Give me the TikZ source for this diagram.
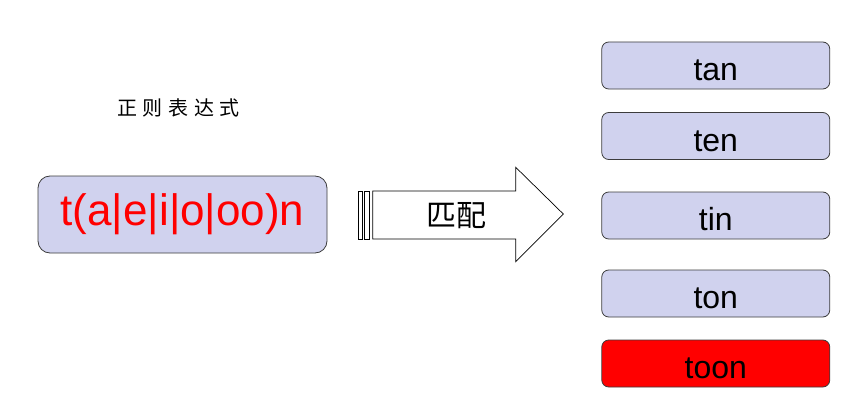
\documentclass[tikz,border=0pt]{standalone}
\usepackage{fontspec}
\setmainfont{Liberation Sans}
\newfontfamily\cjk{Noto Sans CJK SC}
\definecolor{lav}{RGB}{208,210,238}
\definecolor{edge}{RGB}{60,60,60}
\tikzset{
  wordbox/.style={draw=edge, line width=0.8pt, fill=lav, rounded corners=7pt, minimum width=228pt, minimum height=47pt, inner sep=0pt, text height=30.5pt, text depth=0pt, font=\fontsize{32}{38}\selectfont},
  regexbox/.style={draw=edge, line width=0.8pt, fill=lav, rounded corners=12pt, minimum width=289pt, minimum height=77pt, inner sep=0pt, text=red, font=\fontsize{44}{52}\selectfont},
  arrowline/.style={draw=black, line width=0.7pt, fill=white}
}
\begin{document}
\begin{tikzpicture}[x=1pt,y=-1pt]
\useasboundingbox (0,0) rectangle (862,420);
\node[inner sep=0pt, font=\cjk\fontsize{20}{22}\selectfont] (title) at (178.5,108) {正\hspace{5.7pt}则\hspace{5.7pt}表\hspace{5.7pt}达\hspace{5.7pt}式};
\node[regexbox] (regex) at (182.5,214.5) {t(a|e|i|o|oo)n};
% block arrow
\draw[arrowline] (358.3,191) rectangle (362.3,239);
\draw[arrowline] (364.7,191) rectangle (369.3,239);
\draw[arrowline] (372.7,191) -- (515.7,191) -- (515.7,167.3) -- (563.3,214) -- (515.7,261.7) -- (515.7,239) -- (372.7,239) -- cycle;
\node[inner sep=0pt, font=\cjk\fontsize{30}{34}\selectfont] (match) at (456.7,215.5) {匹配};
\node[wordbox] (tan) at (715.75,65.5) {tan};
\node[wordbox] (ten) at (715.75,136) {ten};
\node[wordbox] (tin) at (715.75,215.5) {tin};
\node[wordbox] (ton) at (715.75,293.5) {ton};
\node[wordbox, fill=red] (toon) at (715.75,363.5) {toon};
\end{tikzpicture}
\end{document}
